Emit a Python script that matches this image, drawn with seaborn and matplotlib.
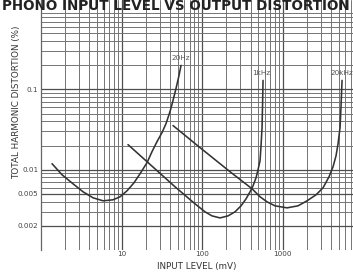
import numpy as np
import pandas as pd
import matplotlib
matplotlib.use('Agg')
import matplotlib.pyplot as plt
from matplotlib.ticker import LogLocator, NullFormatter, FixedLocator
import seaborn as sns

# curves (input mV, THD %)
hz20_x = [1.37, 1.823, 2.497, 3.325, 4.426, 5.891, 7.843, 9.58, 11.7, 14.3, 16.98,
          20.74, 23.92, 27.61, 31.86, 35.72, 40.05, 43.63, 47.54, 51.8, 54.85]
hz20_y = [0.01189, 0.00866, 0.00668, 0.00531, 0.00447, 0.0041, 0.00422, 0.0046, 0.00546,
          0.00688, 0.00891, 0.01224, 0.01679, 0.02239, 0.02901, 0.03758, 0.05309, 0.07286,
          0.1029, 0.1496, 0.1995]

khz1_x = [12.04, 20.74, 46.19, 81.85, 108.97, 133.1, 167.3, 210.4, 257.0, 305.1, 352.1,
          394.8, 430.2, 468.7, 496.3, 525.4, 540.6, 556.3, 564.4, 572.5]
khz1_y = [0.02054, 0.01259, 0.00613, 0.00376, 0.00299, 0.00266, 0.00251, 0.00266, 0.00299,
          0.00355, 0.00434, 0.00531, 0.00631, 0.00794, 0.01, 0.01296, 0.01995, 0.0335,
          0.0631, 0.1296]

khz20_x = [43.63, 94.45, 222.7, 417.9, 525.4, 642.0, 807.0, 1137, 1558, 2015, 2607, 3186,
           3781, 4240, 4619, 4892, 5180, 5330, 5483]
khz20_y = [0.03548, 0.01884, 0.00944, 0.00579, 0.0046, 0.00398, 0.00355, 0.00335, 0.00355,
           0.0041, 0.00487, 0.00596, 0.00818, 0.0109, 0.01496, 0.02113, 0.0335, 0.0631, 0.1296]

curve_names = ['20Hz', '1kHz', '20kHz']
label_pos = [(55, 0.244), (540, 0.158), (5480, 0.158)]

y_ticks = [0.1, 0.01, 0.005, 0.002]
y_labels = ['0.1', '0.01', '0.005', '0.002']
x_ticks = [10, 100, 1000]
x_labels = ['10', '100', '1000']

title = 'PHONO INPUT LEVEL VS OUTPUT DISTORTION'

rows = []
for name, xs, ys in zip(curve_names, [hz20_x, khz1_x, khz20_x], [hz20_y, khz1_y, khz20_y]):
    for a, b in zip(xs, ys):
        rows.append((name, a, b))
df = pd.DataFrame(rows, columns=['freq', 'level', 'thd'])

sns.set_theme(style='white')
plt.rcParams['font.family'] = ['DejaVu Sans']

W, H = 353, 275
fig = plt.figure(figsize=(W / 100, H / 100), dpi=100)
ax = fig.add_axes([41 / W, 25 / H, 1 - 41 / W, 250 / H])

ax.set_xscale('log')
ax.set_yscale('log')
ax.set_xlim(1, 7500)
ax.set_ylim(0.001, 1.3)

# graph paper grid
ax.xaxis.set_major_locator(LogLocator(base=10))
ax.xaxis.set_minor_locator(LogLocator(base=10, subs=np.arange(2, 10)))
ax.yaxis.set_minor_locator(LogLocator(base=10, subs=np.arange(2, 10)))
ax.grid(True, which='major', color='#4e4e4e', lw=0.9)
ax.grid(True, which='minor', color='#747474', lw=0.7)
ax.set_axisbelow(True)

sns.lineplot(data=df, x='level', y='thd', hue='freq', units='freq', estimator=None,
             sort=False, palette=['#333333'] * 3, lw=1.15, legend=False, ax=ax)

for name, (lx, ly) in zip(curve_names, label_pos):
    ax.text(lx, ly, name, fontsize=5.2, color='#555555', ha='center', va='center',
            clip_on=False)

ax.yaxis.set_major_locator(FixedLocator(y_ticks))
ax.set_yticklabels(y_labels)
ax.yaxis.set_minor_formatter(NullFormatter())
ax.xaxis.set_major_locator(FixedLocator(x_ticks))
ax.set_xticklabels(x_labels)
ax.xaxis.set_minor_formatter(NullFormatter())
ax.tick_params(which='both', length=0, labelsize=5.2, colors='#444444', pad=2)
ax.tick_params(axis='x', pad=1)

for s in ['top', 'right', 'bottom']:
    ax.spines[s].set_visible(False)
ax.spines['left'].set_color('#666666')
ax.spines['left'].set_linewidth(0.9)

ax.set_xlabel('INPUT LEVEL (mV)', fontsize=6.3, color='#333333', labelpad=3)
ax.set_ylabel('TOTAL HARMONIC DISTORTION (%)', fontsize=6.3, color='#333333')
ax.yaxis.set_label_coords(-20 / (W - 41), 0.59)

# page title, squeezed into the top strip and stretched to the full width
t = fig.text(0.005, 1 - 10 / H, title, fontsize=8, fontweight='bold',
             color='#222222', ha='left', va='baseline')
r = fig.canvas.get_renderer()
w = t.get_window_extent(r).width
t.set_fontsize(8 * 348 / w)

fig.savefig('out.png', dpi=100)
